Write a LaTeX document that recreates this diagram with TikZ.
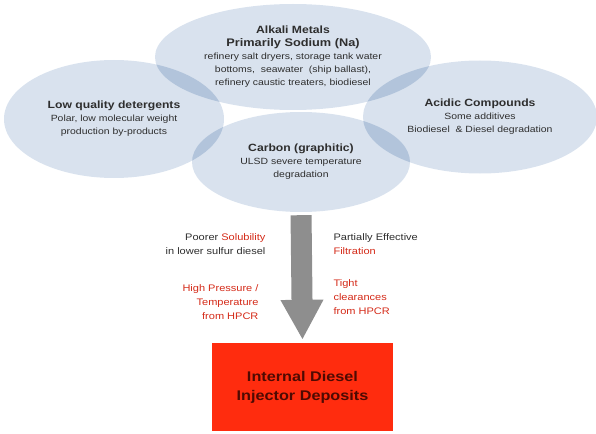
\documentclass[tikz,border=0pt]{standalone}
\usepackage{fontspec}
\setmainfont[FakeStretch=1.16]{Liberation Sans}
\usepackage{tikz}
\usetikzlibrary{arrows.meta, positioning, shapes.geometric}
\usepackage{xcolor}
\definecolor{ellblue}{HTML}{D9E2EE}
\definecolor{ellshade}{HTML}{B2C4DB}
\definecolor{txtgray}{HTML}{2E2E2E}
\definecolor{notered}{HTML}{D42A18}
\definecolor{boxred}{HTML}{FF2C0E}
\definecolor{boxtext}{HTML}{4E0A02}
\definecolor{arrgray}{HTML}{8E8E8E}

\begin{document}
\begin{tikzpicture}[x=1pt, y=-1pt,
    blob/.style={ellipse, fill=ellblue, inner sep=0pt, align=center,
                 text=txtgray, font=\fontsize{9}{13}\selectfont},
    lap/.style={fill=ellshade},
    arr/.style={-{Triangle[width=40pt, length=40pt]}, line width=21pt,
                arrgray, shorten <=3pt, shorten >=3pt},
    note/.style={font=\fontsize{9.5}{14}\selectfont, text=txtgray},
    target/.style={fill=boxred, minimum width=181pt, minimum height=88pt,
                   align=center, text=boxtext,
                   font=\bfseries\fontsize{14}{19}\selectfont}
  ]
    \useasboundingbox (0,0) rectangle (596,433);

    % the four deposit sources
    \node[blob, minimum width=220pt, minimum height=118pt] (deterg) at (114,119)
      {{\bfseries\fontsize{10.5}{13}\selectfont Low quality detergents}\\
       Polar, low molecular weight\\production by-products};
    \node[blob, minimum width=234pt, minimum height=113pt] (acidic) at (480,117)
      {{\bfseries\fontsize{10.5}{13}\selectfont Acidic Compounds}\\
       Some additives\\Biodiesel\ \ \& Diesel degradation};
    \node[blob, minimum width=276pt, minimum height=106pt] (alkali) at (293,57)
      {{\bfseries\fontsize{10.5}{13}\selectfont Alkali Metals}\\
       {\bfseries\fontsize{11}{13}\selectfont Primarily Sodium (Na)}\\
       refinery salt dryers, storage tank water\\
       bottoms,\ \ seawater\ \ (ship ballast),\\
       refinery caustic treaters, biodiesel};
    \node[blob, minimum width=218pt, minimum height=100pt] (carbon) at (301,162)
      {{\bfseries\fontsize{10.5}{13}\selectfont Carbon (graphitic)}\\
       ULSD severe temperature\\degradation};

    % overlaps
    \begin{scope}
      \clip (114,119) ellipse [x radius=110pt, y radius=59pt];
      \fill[lap] (293,57) ellipse [x radius=138pt, y radius=53pt];
      \fill[lap] (301,162) ellipse [x radius=109pt, y radius=50pt];
    \end{scope}
    \begin{scope}
      \clip (480,117) ellipse [x radius=117pt, y radius=56.5pt];
      \fill[lap] (293,57) ellipse [x radius=138pt, y radius=53pt];
      \fill[lap] (301,162) ellipse [x radius=109pt, y radius=50pt];
    \end{scope}

    % result
    \node[target] (ids) at (302.5,387) {Internal Diesel\\Injector Deposits};
    \draw[arr] (carbon.south) -- (ids.north);

    % side notes
    \node[note, anchor=east, align=right] (solub) at (269,244.5)
      {Poorer \textcolor{notered}{Solubility}\\in lower sulfur diesel};
    \node[note, anchor=east, align=right, text=notered] (press) at (262,302)
      {High Pressure /\\Temperature\\from HPCR};
    \node[note, anchor=west, align=left] (filt) at (330,244.5)
      {Partially Effective\\\textcolor{notered}{Filtration}};
    \node[note, anchor=west, align=left, text=notered] (clear) at (330,297)
      {Tight\\clearances\\from HPCR};
\end{tikzpicture}
\end{document}
